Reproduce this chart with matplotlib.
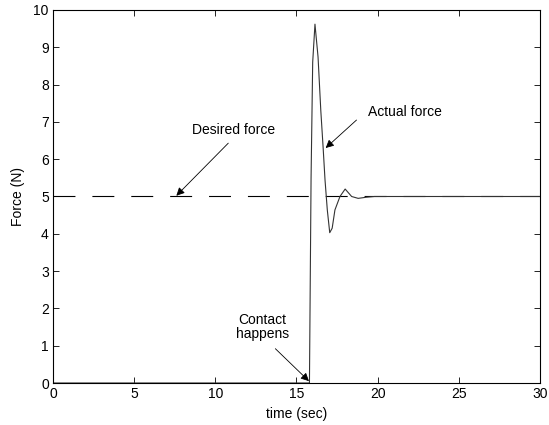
import matplotlib
matplotlib.use("Agg")
import matplotlib.pyplot as plt

plt.rcParams['font.family'] = ['Liberation Sans', 'DejaVu Sans']
plt.rcParams['lines.scale_dashes'] = False

# data
time_actual = [0, 15.8, 15.9, 16.0, 16.14, 16.33, 16.5, 16.64, 16.76, 16.9, 17.05,
               17.2, 17.37, 17.68, 18.0, 18.4, 18.8, 19.3, 19.8, 30]
force_actual = [0, 0, 5.5, 8.6, 9.62, 8.74, 7.3, 6.33, 5.44, 4.64, 4.03,
                4.15, 4.64, 5.0, 5.2, 5.0, 4.95, 4.98, 5.0, 5.0]
time_desired = [0, 30]
force_desired = [5, 5]
x_ticks = [0, 5, 10, 15, 20, 25, 30]
y_ticks = [0, 1, 2, 3, 4, 5, 6, 7, 8, 9, 10]

fig = plt.figure(figsize=(5.49, 4.25), dpi=100)
ax = fig.add_axes([0.0965, 0.0988, 0.887, 0.8777])

ax.plot(time_desired, force_desired, color='black', lw=0.8,
        linestyle=(0, (15.8, 12.2)))
ax.plot(time_actual, force_actual, color='#333333', lw=0.8)

ax.set_xlim(0, 30)
ax.set_ylim(0, 10)
ax.set_xticks(x_ticks)
ax.set_yticks(y_ticks)
ax.tick_params(direction='in', top=True, right=True, length=4, width=0.6,
               labelsize=10, pad=3)
for s in ax.spines.values():
    s.set_linewidth(0.8)
ax.set_xlabel('time (sec)', fontsize=10, labelpad=4)
ax.set_ylabel('Force (N)', fontsize=10, labelpad=6)

arrow = dict(arrowstyle='-|>', color='black', lw=0.6, mutation_scale=12,
             shrinkA=0, shrinkB=0)
ax.text(11.1, 6.78, 'Desired force', ha='center', va='center', fontsize=10)
ax.annotate('', xy=(7.6, 5.02), xytext=(10.8, 6.43), arrowprops=arrow)
ax.text(21.7, 7.27, 'Actual force', ha='center', va='center', fontsize=10)
ax.annotate('', xy=(16.8, 6.3), xytext=(18.7, 7.05), arrowprops=arrow)
ax.text(12.9, 1.5, 'Contact\nhappens', ha='center', va='center', fontsize=10,
        linespacing=1.0)
ax.annotate('', xy=(15.77, 0.05), xytext=(13.7, 0.92), arrowprops=arrow)

fig.savefig('out.png', dpi=100)
